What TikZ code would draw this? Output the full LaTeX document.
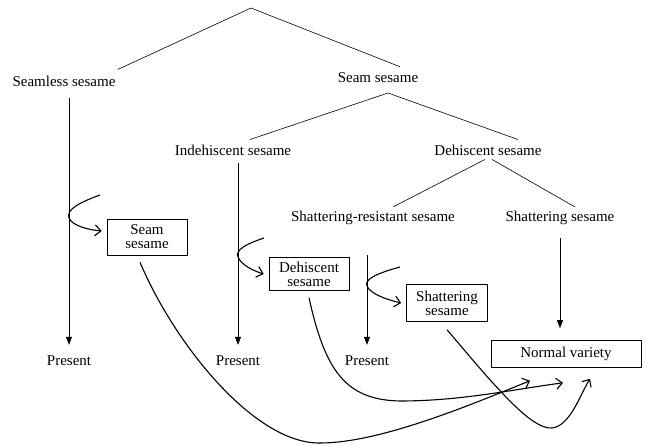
\documentclass[tikz,border=0pt]{standalone}
\usepackage{fontspec}
\setmainfont{Liberation Serif}
\usetikzlibrary{arrows.meta}

\begin{document}
\begin{tikzpicture}[x=1pt,y=-1pt,
    every node/.style={font=\fontsize{15}{14}\selectfont, inner sep=2pt},
    box/.style={draw, line width=0.6pt, align=center, minimum width=80pt},
    branch/.style={line width=0.6pt},
    down/.style={line width=0.6pt, -{Triangle[length=8pt,width=6pt]}},
    swing/.style={line width=1.1pt, -{Straight Barb[length=6pt,width=11pt]}}]
            \useasboundingbox (0,0) rectangle (646,446);
            \coordinate (top) at (251,8);
            \coordinate (seamfork) at (388,93);
            \node (seamless) at (64,81) {Seamless sesame};
            \node (seam) at (378,78) {Seam sesame};
            \node (indehiscent) at (233,150) {Indehiscent sesame};
            \node (dehiscent) at (488,150) {Dehiscent sesame};
            \node (shres) at (373,218) {Shattering-resistant sesame};
            \node (shattering) at (560,218) {Shattering sesame};
            \node[box, minimum height=36pt] (seambox) at (147,237) {Seam\\sesame};
            \node[box, minimum height=33pt] (dehbox) at (309,274) {Dehiscent\\sesame};
            \node[box, minimum width=81pt, minimum height=37pt] (shatbox) at (447,303) {Shattering\\sesame};
            \node[box, minimum width=150pt, minimum height=27pt] (normal) at (566,354) {Normal variety};
            \foreach \n/\x in {1/69,2/238,3/367}
                \node (present\n) at (\x,361) {Present};
            \draw[branch] ([yshift=4pt]seamless.north east) -- (top) -- ([xshift=22pt,yshift=4pt]seam.north);
            \draw[branch] ([xshift=17pt,yshift=3pt]indehiscent.north) -- (seamfork) -- ([xshift=30pt,yshift=3pt]dehiscent.north);
            \draw[branch] ([xshift=-3pt,yshift=-2pt]dehiscent.south) -- ([xshift=20pt,yshift=2pt]shres.north);
            \draw[branch] ([xshift=4pt,yshift=-2pt]dehiscent.south) -- ([xshift=15pt,yshift=2pt]shattering.north);
            \draw[down, shorten <=10pt, shorten >=9pt] (present1 |- seamless.south) -- (present1.north);
            \draw[down, shorten <=6pt, shorten >=9pt] (present2 |- indehiscent.south) -- (present2.north);
            \draw[down, shorten <=28pt, shorten >=9pt] (present3 |- shres.south) -- (present3.north);
            \draw[down, shorten <=11pt, shorten >=12pt] (shattering.south) -- (normal.north -| shattering.south);
            \draw[swing] (100,195) .. controls (78,203) and (66,210) .. (69,218) .. controls (72,226) and (90,230) .. ([xshift=-5pt,yshift=6pt]seambox.west);
            \draw[swing] (264,238) .. controls (246,244) and (235,250) .. (238,257) .. controls (241,265) and (254,271) .. ([xshift=-5pt]dehbox.west);
            \draw[swing] (400,267) .. controls (378,273) and (364,279) .. (367,286) .. controls (370,294) and (388,300) .. ([xshift=-5pt]shatbox.west);
            \draw[swing] ([xshift=-7pt,yshift=-7pt]seambox.south) .. controls (175,345) and (255,444) .. (320,443) .. controls (380,443) and (470,405) .. ([xshift=-36pt,yshift=-13pt]normal.south);
            \draw[swing] ([yshift=-7pt]dehbox.south) .. controls (325,370) and (345,400) .. (400,401) .. controls (460,401) and (510,390) .. ([xshift=-3pt,yshift=-15pt]normal.south);
            \draw[swing] ([yshift=-8pt]shatbox.south) .. controls (490,380) and (530,430) .. (552,428) .. controls (570,426) and (580,395) .. ([xshift=24pt,yshift=-11pt]normal.south);
        \end{tikzpicture}
\end{document}
